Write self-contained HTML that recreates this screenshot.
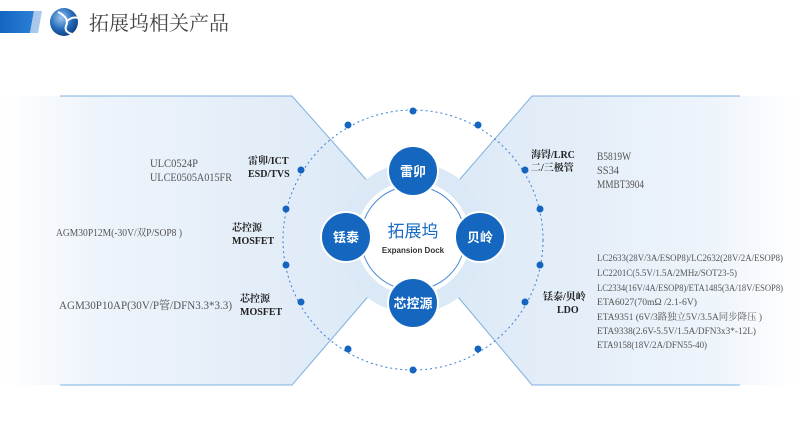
<!DOCTYPE html>
<html><head><meta charset="utf-8"><style>
body{margin:0;width:800px;height:448px;overflow:hidden;background:#fff;font-family:"Liberation Sans","Noto Sans CJK SC",sans-serif}
svg{display:block}
</style></head><body>
<svg width="800" height="448" viewBox="0 0 800 448" xmlns="http://www.w3.org/2000/svg">
<defs>
<linearGradient id="gl" x1="0" x2="1" y1="0" y2="0"><stop offset="0" stop-color="#fff"/><stop offset="0.25" stop-color="#eef4fb"/><stop offset="1" stop-color="#dce9f6"/></linearGradient>
<linearGradient id="gr" x1="1" x2="0" y1="0" y2="0"><stop offset="0" stop-color="#fff"/><stop offset="0.25" stop-color="#eef4fb"/><stop offset="1" stop-color="#dce9f6"/></linearGradient>
<linearGradient id="hb" x1="0" x2="1"><stop offset="0" stop-color="#1565c0"/><stop offset="1" stop-color="#2b7fd6"/></linearGradient>
<radialGradient id="logo" cx="0.4" cy="0.35" r="0.7"><stop offset="0" stop-color="#9cc7ef"/><stop offset="0.6" stop-color="#2168b8"/><stop offset="1" stop-color="#0d3f7e"/></radialGradient>
</defs>
<polygon points="0,11 34,11 30,33 0,33" fill="url(#hb)"/>
<polygon points="34,11 42,11 38,33 30,33" fill="#a9c8ec"/>
<circle cx="64" cy="22" r="14" fill="url(#logo)"/>
<path d="M58,12 Q70,18 66,26 Q64,32 72,34 M66,22 Q72,16 78,18" stroke="#fff" stroke-width="2" fill="none"/>
<text x="89" y="30" font-size="20" fill="#444" font-family="'Liberation Serif','Noto Serif CJK SC',serif">拓展坞相关产品</text>

<polygon points="0,96 292,96 378,193 378,285 292,385 0,385" fill="url(#gl)"/>
<polyline points="60,96 292,96 378,193" fill="none" stroke="#7fb0e0" stroke-width="1"/>
<polyline points="378,285 292,385 60,385" fill="none" stroke="#7fb0e0" stroke-width="1"/>
<polygon points="800,96 532,96 448,193 448,285 532,385 800,385" fill="url(#gr)"/>
<polyline points="740,96 532,96 448,193" fill="none" stroke="#7fb0e0" stroke-width="1"/>
<polyline points="448,285 532,385 740,385" fill="none" stroke="#7fb0e0" stroke-width="1"/>

<circle cx="413" cy="240" r="130" fill="none" stroke="#3a7fd0" stroke-width="1" stroke-dasharray="2,3"/>
<g fill="#1565c0">
<circle cx="348" cy="125" r="3.5"/><circle cx="478" cy="125" r="3.5"/>
<circle cx="301" cy="170" r="3.5"/><circle cx="525" cy="170" r="3.5"/>
<circle cx="286" cy="209" r="3.5"/><circle cx="540" cy="209" r="3.5"/>
<circle cx="286" cy="265" r="3.5"/><circle cx="540" cy="265" r="3.5"/>
<circle cx="301" cy="302" r="3.5"/><circle cx="525" cy="302" r="3.5"/>
<circle cx="348" cy="349" r="3.5"/><circle cx="478" cy="349" r="3.5"/>
<circle cx="413" cy="111" r="3.5"/><circle cx="413" cy="370" r="3.5"/>
</g>

<circle cx="413" cy="238" r="75" fill="#dbe8f5"/>
<circle cx="413" cy="238" r="57" fill="#fff"/>
<circle cx="413" cy="238" r="52" fill="#fff" stroke="#4a8ad4" stroke-width="1"/>
<text x="413" y="237" text-anchor="middle" font-size="17" fill="#1a6cc4">拓展坞</text>
<text x="413" y="253" text-anchor="middle" font-size="8" font-weight="bold" fill="#333">Expansion Dock</text>

<g fill="#1466bf" stroke="#fff" stroke-width="2">
<circle cx="413" cy="171" r="25"/><circle cx="346" cy="237" r="25"/>
<circle cx="480" cy="237" r="25"/><circle cx="413" cy="303" r="25"/>
</g>
<g fill="#fff" font-size="13" text-anchor="middle" font-weight="bold">
<text x="413" y="176">雷卯</text><text x="346" y="242">铥泰</text>
<text x="480" y="242">贝岭</text><text x="413" y="308">芯控源</text>
</g>

<g font-family="'Liberation Serif','Noto Serif CJK SC',serif" font-size="10" fill="#222" font-weight="bold">
<text x="248" y="164">雷卯/ICT</text><text x="248" y="177">ESD/TVS</text>
<text x="232" y="231">芯控源</text><text x="232" y="244">MOSFET</text>
<text x="240" y="302">芯控源</text><text x="240" y="315">MOSFET</text>
<text x="531" y="158">海锝/LRC</text><text x="531" y="171">二/三极管</text>
<text x="543" y="300">铥泰/贝岭</text><text x="557" y="313">LDO</text>
</g>
<g font-family="'Liberation Serif','Noto Serif CJK SC',serif" fill="#555">
<text x="150" y="167" font-size="12" textLength="48" lengthAdjust="spacingAndGlyphs">ULC0524P</text>
<text x="150" y="181" font-size="12" textLength="82" lengthAdjust="spacingAndGlyphs">ULCE0505A015FR</text>
<text x="56" y="236" font-size="10" textLength="126" lengthAdjust="spacingAndGlyphs">AGM30P12M(-30V/双P/SOP8 )</text>
<text x="59" y="309" font-size="11.5" textLength="173" lengthAdjust="spacingAndGlyphs">AGM30P10AP(30V/P管/DFN3.3*3.3)</text>
<text x="597" y="160" font-size="12" textLength="34" lengthAdjust="spacingAndGlyphs">B5819W</text>
<text x="597" y="174" font-size="12" textLength="22" lengthAdjust="spacingAndGlyphs">SS34</text>
<text x="597" y="188" font-size="12" textLength="47" lengthAdjust="spacingAndGlyphs">MMBT3904</text>
<g font-size="9.5">
<text x="597" y="261" textLength="186" lengthAdjust="spacingAndGlyphs">LC2633(28V/3A/ESOP8)/LC2632(28V/2A/ESOP8)</text>
<text x="597" y="276" textLength="140" lengthAdjust="spacingAndGlyphs">LC2201C(5.5V/1.5A/2MHz/SOT23-5)</text>
<text x="597" y="291" textLength="186" lengthAdjust="spacingAndGlyphs">LC2334(16V/4A/ESOP8)/ETA1485(3A/18V/ESOP8)</text>
<text x="597" y="305" textLength="100" lengthAdjust="spacingAndGlyphs">ETA6027(70mΩ /2.1-6V)</text>
<text x="597" y="320" textLength="165" lengthAdjust="spacingAndGlyphs">ETA9351 (6V/3路独立5V/3.5A同步降压 )</text>
<text x="597" y="334" textLength="159" lengthAdjust="spacingAndGlyphs">ETA9338(2.6V-5.5V/1.5A/DFN3x3*-12L)</text>
<text x="597" y="348" textLength="110" lengthAdjust="spacingAndGlyphs">ETA9158(18V/2A/DFN55-40)</text>
</g>
</g>
</svg>
</body></html>
